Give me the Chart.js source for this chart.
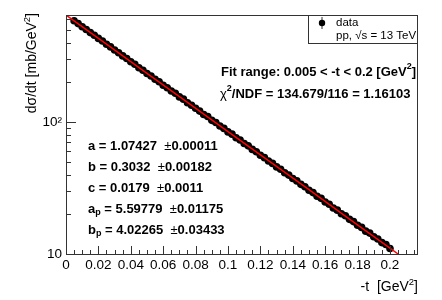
<!DOCTYPE html>
<html>
<head>
<meta charset="utf-8">
<script src="https://cdn.jsdelivr.net/npm/chart.js@4.4.1/dist/chart.umd.min.js"></script>
<style>
  body { margin: 0; background: #fff; }
  canvas { display: block; }
</style>
</head>
<body>
<canvas id="myChart" width="442" height="300"></canvas>
<script>
// measured points, -t in GeV^2
const tValues = [0.005, 0.0075, 0.01, 0.0125, 0.015, 0.0175, 0.02, 0.0225, 0.025, 0.0275,
  0.03, 0.0325, 0.035, 0.0375, 0.04, 0.0425, 0.045, 0.0475, 0.05, 0.0525,
  0.055, 0.0575, 0.06, 0.0625, 0.065, 0.0675, 0.07, 0.0725, 0.075, 0.0775,
  0.08, 0.0825, 0.085, 0.0875, 0.09, 0.0925, 0.095, 0.0975, 0.1, 0.1025,
  0.105, 0.1075, 0.11, 0.1125, 0.115, 0.1175, 0.12, 0.1225, 0.125, 0.1275,
  0.13, 0.1325, 0.135, 0.1375, 0.14, 0.1425, 0.145, 0.1475, 0.15, 0.1525,
  0.155, 0.1575, 0.16, 0.1625, 0.165, 0.1675, 0.17, 0.1725, 0.175, 0.1775,
  0.18, 0.1825, 0.185, 0.1875, 0.19, 0.1925, 0.195, 0.1975, 0.2];
// dsigma/dt in mb/GeV^2
const dsdtValues = [585, 557, 527, 503, 476, 454, 430, 411, 388, 371,
  351, 335, 317, 303, 286, 274, 258, 247, 233, 223,
  211, 202, 190, 182, 172, 165, 155, 149, 140, 134,
  127, 121, 114, 110, 103, 99.2, 93.2, 89.5, 84.2, 80.9,
  76.1, 73.1, 68.7, 66.0, 62.0, 59.6, 56.0, 53.7, 50.6, 48.6,
  45.7, 43.9, 41.3, 39.6, 37.3, 35.8, 33.7, 32.3, 30.4, 29.2,
  27.4, 26.4, 24.8, 23.8, 22.3, 21.5, 20.2, 19.5, 18.3, 17.6,
  16.5, 15.9, 14.9, 14.4, 13.5, 13.0, 12.2, 11.8, 11.0];

// fit curve
const fitT = [0, 0.025, 0.05, 0.075, 0.1, 0.125, 0.15, 0.175, 0.2, 0.205];
const fitValues = [647, 389, 234, 141, 84.7, 50.9, 30.7, 18.4, 11.1, 10.0];

const xTicks = [0, 0.02, 0.04, 0.06, 0.08, 0.1, 0.12, 0.14, 0.16, 0.18, 0.2];
const yTicks = [10, 100];

const FONT = '"Liberation Sans", Arial, sans-serif';

// draw a list of text pieces one after another; {t, bold, size, dy}
function textWidth(ctx, runs) {
  let w = 0;
  runs.forEach(r => {
    ctx.font = (r.bold ? 'bold ' : '') + r.size + 'px ' + FONT;
    w += ctx.measureText(r.t).width;
  });
  return w;
}
function drawRuns(ctx, runs, x, y) {
  ctx.textBaseline = 'middle';
  ctx.textAlign = 'left';
  runs.forEach(r => {
    ctx.font = (r.bold ? 'bold ' : '') + r.size + 'px ' + FONT;
    ctx.fillText(r.t, x, y + (r.dy || 0));
    x += ctx.measureText(r.t).width;
  });
}

const frameAndText = {
  id: 'frameAndText',
  afterDraw(chart) {
    const ctx = chart.ctx;
    const a = chart.chartArea;
    const xs = chart.scales.x, ys = chart.scales.y;
    ctx.save();
    ctx.strokeStyle = '#333';
    ctx.lineWidth = 1;

    // frame
    ctx.strokeRect(a.left + 0.5, a.top + 0.5, a.right - a.left - 1, a.bottom - a.top);

    // ticks pointing inwards
    ctx.beginPath();
    for (let i = 0; i * 0.005 <= xs.max + 1e-9; i++) {
      const px = Math.round(xs.getPixelForValue(i * 0.005)) + 0.5;
      const len = i % 4 === 0 ? 8 : 4;
      ctx.moveTo(px, a.bottom);
      ctx.lineTo(px, a.bottom - len);
    }
    [10, 100].forEach(dec => {
      for (let m = 1; m <= 9; m++) {
        const v = dec * m;
        if (v > ys.max) break;
        const py = Math.round(ys.getPixelForValue(v)) + 0.5;
        const len = m === 1 ? 10 : 5;
        ctx.moveTo(a.left, py);
        ctx.lineTo(a.left + len, py);
      }
    });
    ctx.stroke();

    ctx.fillStyle = '#000';

    // axis titles
    const yTitle = [
      { t: 'dσ/dt [mb/GeV', size: 14 },
      { t: '2', size: 9.5, dy: -5 },
      { t: ']', size: 14 }
    ];
    ctx.save();
    ctx.translate(32, 13);
    ctx.rotate(-Math.PI / 2);
    drawRuns(ctx, yTitle, -textWidth(ctx, yTitle), 0);
    ctx.restore();

    const xTitle = [
      { t: '-t  [GeV', size: 14 },
      { t: '2', size: 9.5, dy: -5 },
      { t: ']', size: 14 }
    ];
    drawRuns(ctx, xTitle, a.right - textWidth(ctx, xTitle), 287);

    // legend box
    ctx.fillStyle = '#fff';
    ctx.fillRect(308.5, a.top + 0.5, a.right - 309, 28);
    ctx.strokeRect(308.5, a.top + 0.5, a.right - 309, 28);
    ctx.fillStyle = '#000';
    ctx.beginPath();
    ctx.moveTo(322, 17); ctx.lineTo(322, 29);
    ctx.stroke();
    ctx.beginPath();
    ctx.arc(322, 23, 3.2, 0, Math.PI * 2);
    ctx.fill();
    drawRuns(ctx, [{ t: 'data', size: 11.5 }], 336, 23);
    drawRuns(ctx, [{ t: 'pp, √s = 13 TeV', size: 11.5 }], 336, 36);

    // fit info
    drawRuns(ctx, [
      { t: 'Fit range: 0.005 < -t < 0.2 [GeV', size: 13, bold: true },
      { t: '2', size: 9, bold: true, dy: -5 },
      { t: ']', size: 13, bold: true }
    ], 221, 72);
    drawRuns(ctx, [
      { t: 'χ', size: 13 },
      { t: '2', size: 9, bold: true, dy: -5 },
      { t: '/NDF = 134.679/116 = 1.16103', size: 13, bold: true }
    ], 220, 94);

    const params = [
      ['a', '', ' = 1.07427  ', '0.00011', 146],
      ['b', '', ' = 0.3032  ', '0.00182', 167],
      ['c', '', ' = 0.0179  ', '0.0011', 188],
      ['a', 'p', ' = 5.59779  ', '0.01175', 209],
      ['b', 'p', ' = 4.02265  ', '0.03433', 230]
    ];
    params.forEach(p => {
      drawRuns(ctx, [
        { t: p[0], size: 13, bold: true },
        { t: p[1], size: 9, bold: true, dy: 4 },
        { t: p[2], size: 13, bold: true },
        { t: '±', size: 13 },
        { t: p[3], size: 13, bold: true }
      ], 88, p[4]);
    });

    ctx.restore();
  }
};

const ctx = document.getElementById('myChart').getContext('2d');

const myChart = new Chart(ctx, {
  type: 'scatter',
  data: {
    datasets: [{
      label: 'fit',
      data: fitT.map((t, i) => ({ x: t, y: fitValues[i] })),
      showLine: true,
      borderColor: 'rgb(255, 0, 0)',
      borderWidth: 1.5,
      pointRadius: 0,
      order: 0
    }, {
      label: 'data',
      data: tValues.map((t, i) => ({ x: t, y: dsdtValues[i] })),
      backgroundColor: '#000',
      borderColor: '#000',
      pointRadius: 3.8,
      borderWidth: 0,
      order: 1
    }]
  },
  options: {
    responsive: false,
    animation: false,
    layout: { padding: { top: 15, right: 24, left: 0, bottom: 0 } },
    plugins: { legend: { display: false }, tooltip: { enabled: false } },
    scales: {
      x: {
        type: 'linear',
        min: 0,
        max: 0.2173,
        grid: { display: false, drawTicks: false },
        border: { display: false },
        afterBuildTicks: s => { s.ticks = xTicks.map(v => ({ value: v })); },
        afterFit: s => { s.height = 46; },
        ticks: {
          color: '#000',
          padding: 3,
          maxRotation: 0,
          autoSkip: false,
          font: { family: FONT, size: 13.5 },
          callback: v => String(+v.toFixed(2))
        }
      },
      y: {
        type: 'logarithmic',
        min: 10,
        max: 647,
        grid: { display: false, drawTicks: false },
        border: { display: false },
        afterBuildTicks: s => { s.ticks = yTicks.map(v => ({ value: v })); },
        afterFit: s => { s.width = 66; },
        ticks: {
          color: '#000',
          padding: 4,
          font: { family: FONT, size: 13.5 },
          callback: v => v === 100 ? '10²' : '10'
        }
      }
    }
  },
  plugins: [frameAndText]
});
</script>
</body>
</html>
